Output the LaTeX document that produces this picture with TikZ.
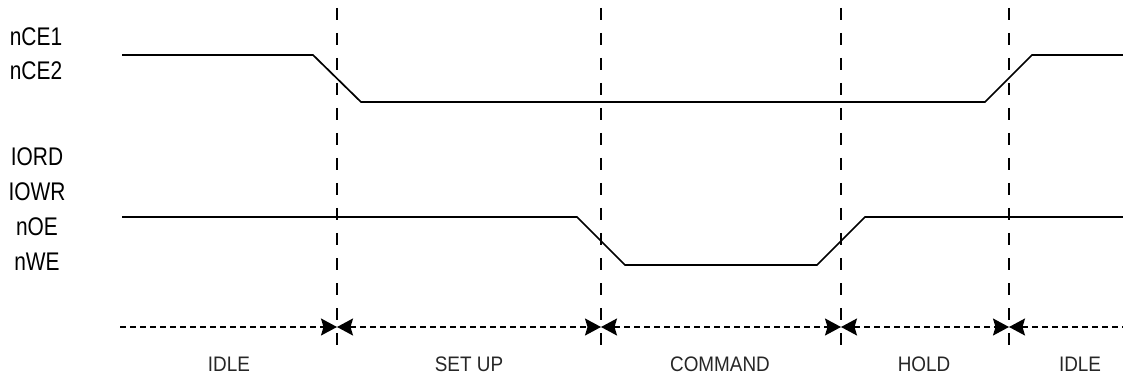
\documentclass[tikz,border=0pt]{standalone}
\usepackage{fontspec}
\setmainfont{Liberation Sans}
\newfontfamily\siglabelfont[FakeStretch=0.82]{Liberation Sans}
\newfontfamily\phasefont[FakeStretch=0.9]{Liberation Sans}
\usetikzlibrary{arrows.meta}
\begin{document}
\begin{tikzpicture}[x=1pt,y=-1pt,
  signal/.style={line width=1.7pt, line join=miter},
  marker/.style={line width=1.7pt, dash pattern=on 12pt off 13pt},
  span/.style={line width=1.6pt, dash pattern=on 6pt off 4pt},
  tipstyle/.tip={Stealth[length=16pt,width=17pt,inset=2.5pt]},
  siglabel/.style={font=\siglabelfont\fontsize{25.5}{29}\selectfont, inner sep=0pt, anchor=base},
  phase/.style={font=\phasefont\fontsize{21}{24}\selectfont, text=black!85, inner sep=0pt, anchor=base}]
\useasboundingbox (0,0) rectangle (1123,379);
% signal labels
\node[siglabel] (ce1) at (36,46) {nCE1};
\node[siglabel] (ce2) at (36,80) {nCE2};
\node[siglabel] (iord) at (37,166) {IORD};
\node[siglabel] (iowr) at (37,201) {IOWR};
\node[siglabel] (noe) at (37,236) {nOE};
\node[siglabel] (nwe) at (37,270) {nWE};
% phase boundaries
\foreach \i/\x in {1/337,2/601,3/841,4/1009}{
  \coordinate (m\i t) at (\x,8);
  \coordinate (m\i b) at (\x,357);
  \coordinate (s\i) at (\x,327);
  \draw[marker] (m\i t) -- (m\i b);
}
\coordinate (s0) at (120,327);
\coordinate (s5) at (1123,327);
% waveforms
\draw[signal] (122,55) -- (313,55) -- (361,102) -- (985,102) -- (1032,55) -- (1123,55);
\draw[signal] (122,217) -- (577,217) -- (625,265) -- (817,265) -- (865,217) -- (1123,217);
% phase spans
\draw[span,-tipstyle] (s0) -- (s1);
\draw[span,tipstyle-tipstyle] (s1) -- (s2);
\draw[span,tipstyle-tipstyle] (s2) -- (s3);
\draw[span,tipstyle-tipstyle] (s3) -- (s4);
\draw[span,tipstyle-] (s4) -- (s5);
% phase labels
\node[phase] (p1) at (229,371) {IDLE};
\node[phase] (p2) at (469,371) {SET UP};
\node[phase] (p3) at (720,371) {COMMAND};
\node[phase] (p4) at (924,371) {HOLD};
\node[phase] (p5) at (1080,371) {IDLE};
\end{tikzpicture}
\end{document}
